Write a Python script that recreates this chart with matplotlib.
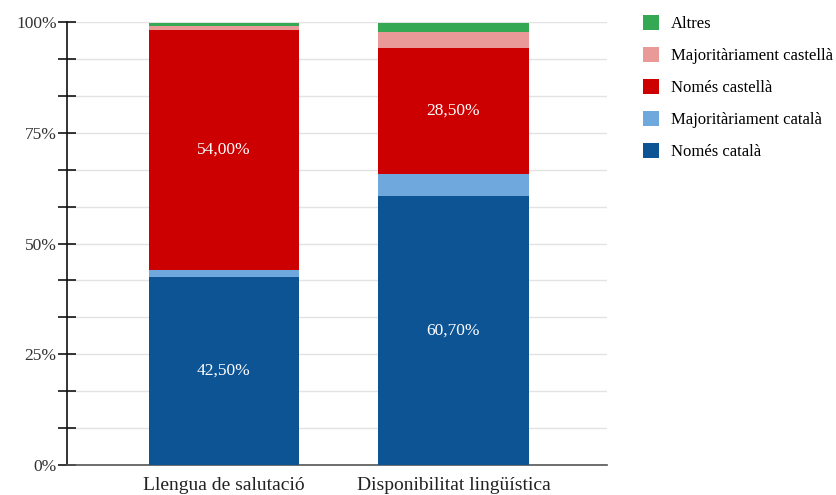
import matplotlib.pyplot as plt
import numpy as np
from matplotlib.patches import Patch

plt.rcParams['font.family'] = ['Liberation Serif', 'DejaVu Serif']

categories = ["Llengua de salutació", "Disponibilitat lingüística"]
series_names = ["Només català", "Majoritàriament català", "Només castellà",
                "Majoritàriament castellà", "Altres"]
values = {
    "Només català": [42.5, 60.7],
    "Majoritàriament català": [1.6, 5.0],
    "Només castellà": [54.0, 28.5],
    "Majoritàriament castellà": [1.0, 3.5],
    "Altres": [0.6, 2.0],
}
colors = ["#0d5495", "#6fa8dc", "#cc0000", "#ea9999", "#34a853"]
labelled = ["Només català", "Només castellà"]

fig = plt.figure(figsize=(8.37, 4.95), dpi=100)
ax = fig.add_axes([67 / 837, 30 / 495, 540 / 837, 443 / 495])

x = np.arange(len(categories))
bottom = np.zeros(len(categories))
for name, color in zip(series_names, colors):
    vals = np.array(values[name])
    bars = ax.bar(x, vals, 0.654, bottom=bottom, color=color,
                  edgecolor='none', zorder=3)
    if name in labelled:
        for b, v in zip(bars, vals):
            ax.text(b.get_x() + b.get_width() / 2, b.get_y() + v / 2,
                    f"{v:.2f}%".replace('.', ','), ha='center', va='center',
                    color='white', fontsize=12.5, zorder=4)
    bottom += vals

ax.set_xlim(-0.684, 1.669)
ax.set_ylim(0, 100)
ticks = np.arange(0, 101, 25 / 3)
ax.set_yticks(ticks)
ax.set_yticklabels([f"{int(round(t))}%" if round(t) % 25 == 0 else ""
                    for t in ticks], fontsize=12.5, color='#333333')
ax.tick_params(axis='y', direction='inout', length=13, width=1.1, pad=1)
ax.tick_params(axis='x', length=0, pad=9)
ax.set_xticks(x)
ax.set_xticklabels(categories, fontsize=14, color='#222222')
ax.grid(axis='y', color='#e3e3e3', linewidth=1, zorder=0)

for s in ['top', 'right']:
    ax.spines[s].set_visible(False)
ax.spines['left'].set_linewidth(1.2)
ax.spines['left'].set_color('#111111')
ax.spines['bottom'].set_color('#555555')
ax.spines['bottom'].set_linewidth(1.2)

handles = [Patch(facecolor=c, edgecolor='none') for c in colors[::-1]]
fig.legend(handles, series_names[::-1], loc='upper left',
           bbox_to_anchor=(636 / 837, 1 - 8 / 495), frameon=False,
           fontsize=12, handlelength=1.0, handleheight=1.0,
           handletextpad=0.7, labelspacing=0.9, borderaxespad=0)

fig.savefig("out.png", dpi=100)
